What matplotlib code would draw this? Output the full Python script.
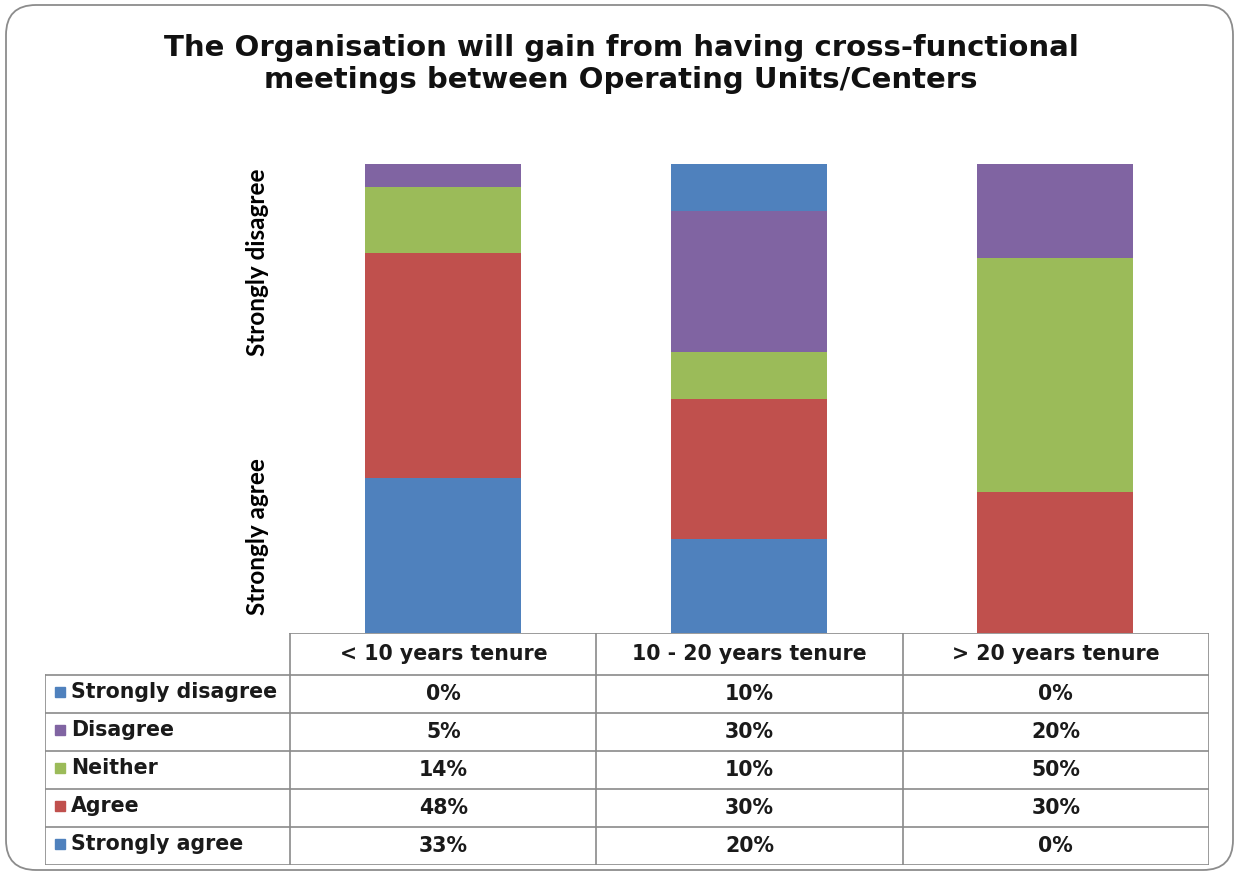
import numpy as np
import matplotlib
matplotlib.use("Agg")
import matplotlib.pyplot as plt
from matplotlib.patches import FancyBboxPatch

# survey answers by tenure group, in percent
categories = ["< 10 years tenure", "10 - 20 years tenure", "> 20 years tenure"]
strongly_agree = [33, 20, 0]
agree = [48, 30, 30]
neither = [14, 10, 50]
disagree = [5, 30, 20]
strongly_disagree = [0, 10, 0]

# stacking order, bottom to top
series = [
    ("Strongly agree", strongly_agree, "#4f81bd"),
    ("Agree", agree, "#c0504d"),
    ("Neither", neither, "#9bbb59"),
    ("Disagree", disagree, "#8064a2"),
    ("Strongly disagree", strongly_disagree, "#4f81bd"),
]

W, H = 1237, 874
fig = plt.figure(figsize=(W / 100, H / 100), dpi=100)


def px_axes(x0, y0, x1, y1, **kw):
    """axes placed by pixel box (top-left origin)"""
    return fig.add_axes([x0 / W, 1 - y1 / H, (x1 - x0) / W, (y1 - y0) / H], **kw)


# rounded chart border
bg = px_axes(0, 0, W, H)
bg.set_xlim(0, W); bg.set_ylim(H, 0); bg.axis("off")
bg.add_patch(FancyBboxPatch((6, 5), 1233 - 6, 870 - 5,
                            boxstyle="round,pad=0,rounding_size=30",
                            fc="white", ec="#8c8c8c", lw=1.3))

fig.text(621 / W, 1 - 64 / H,
         "The Organisation will gain from having cross-functional\n"
         "meetings between Operating Units/Centers",
         ha="center", va="center", fontsize=21, fontweight="bold",
         linespacing=1.15, color="#111111")

# stacked bars
ax = px_axes(290, 164, 1208, 633)
x = np.arange(len(categories))
bottom = np.zeros(len(categories))
for name, vals, col in series:
    ax.bar(x, vals, width=0.51, bottom=bottom, color=col, linewidth=0)
    bottom += np.asarray(vals, dtype=float)
ax.set_xlim(-0.5, len(categories) - 0.5)
ax.set_ylim(0, 100)
for s in ax.spines.values():
    s.set_visible(False)
ax.set_xticks([]); ax.set_yticks([])
ax.patch.set_alpha(0)

ytf = ax.get_yaxis_transform()
ylab = dict(transform=ytf, rotation=90, ha="center", va="center",
            fontsize=17.5, fontweight="bold", family="Lato")
ax.text(-0.035, 20.5, "Strongly agree", **ylab)
ax.text(-0.035, 79, "Strongly disagree", **ylab)

# data table under the bars, columns aligned with categories
lab_w = 245 / 306
hdr_h = 42 / 38
tab = px_axes(45, 633, 1209, 865)
tab.set_xlim(-0.5 - lab_w, len(categories) - 0.5)
tab.set_ylim(len(series), -hdr_h)
tab.axis("off")

lc, lw = "#8a8a8a", 1.2
left = -0.5 - lab_w
right = len(categories) - 0.5
n = len(series)
tab.plot([-0.5, right], [-hdr_h, -hdr_h], color=lc, lw=lw)
for r in range(n + 1):
    tab.plot([left, right], [r, r], color=lc, lw=lw)
tab.plot([left, left], [0, n], color=lc, lw=lw)
for c in np.arange(len(categories) + 1) - 0.5:
    tab.plot([c, c], [-hdr_h, n], color=lc, lw=lw)

tfont = dict(fontsize=14.8, fontweight="bold", color="#1a1a1a")
for i, cat in enumerate(categories):
    tab.text(i, -hdr_h / 2, cat, ha="center", va="center", **tfont)

for r, (name, vals, col) in enumerate(series[::-1]):
    tab.plot([left + 0.05], [r + 0.45], marker="s", ms=7.5, color=col, mec=col)
    tab.text(left + 0.085, r + 0.45, name, ha="left", va="center", **tfont)
    for i, v in enumerate(vals):
        tab.text(i, r + 0.5, f"{v}%", ha="center", va="center", **tfont)

fig.savefig("out.png", dpi=100)
